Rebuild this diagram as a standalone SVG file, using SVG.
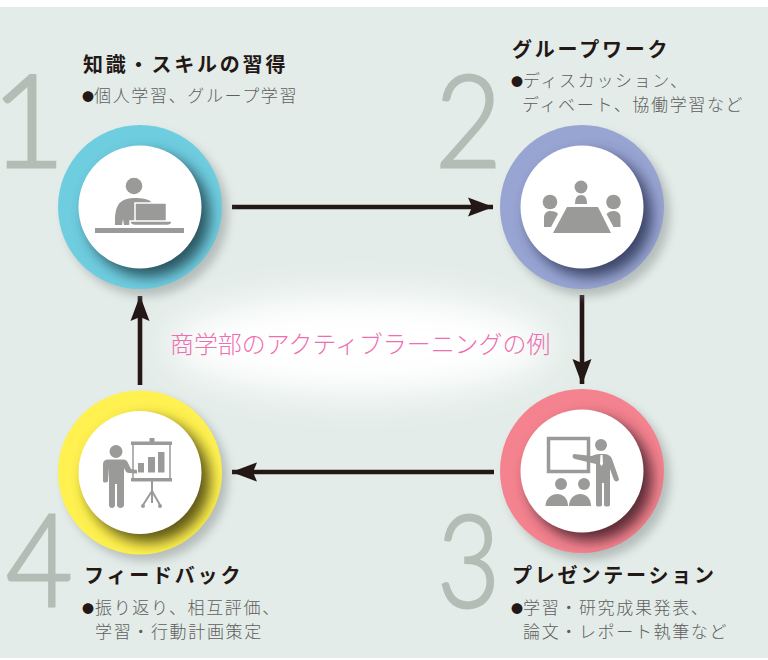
<svg xmlns="http://www.w3.org/2000/svg" width="768" height="660" viewBox="0 0 768 660">
<style>
.num{font-family:"Lato",sans-serif;font-weight:300;font-size:128px;fill:#b3bdb6;stroke:#b3bdb6;stroke-width:2.800px}
.ttl{font-family:"Noto Sans CJK JP",sans-serif;font-weight:700;font-size:20px;letter-spacing:2.8px;fill:#231815}
.sub{font-family:"Noto Sans CJK JP",sans-serif;font-weight:300;font-size:17px;letter-spacing:1.65px;fill:#5f5e5e}
.dot{font-size:12px;fill:#231815;letter-spacing:0}
.ico{fill:#9a9b99}
.wl{stroke:#fff;stroke-width:1.5}
.conn{stroke:#231815;stroke-width:4.600;fill:none}
.wh{fill:#fff}
</style>
<defs>
<filter id="b1" x="-30%" y="-30%" width="160%" height="160%"><feGaussianBlur stdDeviation="5"/></filter>
<filter id="b2" x="-30%" y="-30%" width="160%" height="160%"><feGaussianBlur stdDeviation="7"/></filter>
<filter id="glow" x="-30%" y="-60%" width="160%" height="220%"><feGaussianBlur stdDeviation="18"/></filter>
<clipPath id="c1"><circle cx="140" cy="207" r="82"/></clipPath>
<clipPath id="c2"><circle cx="582" cy="207" r="82"/></clipPath>
<clipPath id="c3"><circle cx="582" cy="471" r="82"/></clipPath>
<clipPath id="c4"><circle cx="140" cy="472.500" r="82"/></clipPath>
<marker id="arr" markerUnits="userSpaceOnUse" markerWidth="27" markerHeight="20" refX="25" refY="10" orient="auto"><path d="M25.500,10 L0,0.500 L4,10 L0,19.500 Z" fill="#231815"/></marker>
</defs>
<rect x="0" y="7" width="768" height="651" fill="#e3ece8"/>
<ellipse cx="360" cy="345" rx="190" ry="50" fill="#fff" filter="url(#glow)"/>
<text x="170" y="353" style="font-family:'Noto Sans CJK JP',sans-serif;font-weight:300;font-size:23.950px;fill:#ee6fb0">商学部のアクティブラーニングの例</text>
<g id="connectors">
<line class="conn" x1="232" y1="207" x2="493" y2="207" marker-end="url(#arr)"/>
<line class="conn" x1="582" y1="295" x2="582" y2="384" marker-end="url(#arr)"/>
<line class="conn" x1="494" y1="472" x2="232" y2="472" marker-end="url(#arr)"/>
<line class="conn" x1="140" y1="385" x2="140" y2="296" marker-end="url(#arr)"/>
</g>
<g id="node1">
<text class="num" x="-9" y="167">1</text>
<circle cx="146" cy="214" r="82" fill="#8f9896" opacity=".55" filter="url(#b1)"/>
<circle cx="140" cy="207" r="82" fill="#6fcde0"/>
<g clip-path="url(#c1)"><circle cx="148" cy="215" r="62" fill="#2a5561" filter="url(#b2)"/></g>
<circle cx="140" cy="207" r="61.500" class="wh"/>
<circle class="ico" cx="134" cy="186" r="8.300"/>
<path class="ico" d="M115,225 C115,212 115,198 134,198 C142,198 150,199 152,203 L135,203 L135,221 L130,221 L129,225 L124,225 L123,219 L122,225 Z"/>
<rect class="ico wl" x="135" y="203" width="31.500" height="20"/>
<path class="ico wl" d="M130,221 H172 Q172,225.500 167,225.500 H135 Q130,225.500 130,221 Z"/>
<rect class="ico" x="95" y="228" width="89" height="5"/>
<text class="ttl" x="83" y="72">知識・スキルの習得</text>
<text class="sub" y="102"><tspan class="dot" x="82">●</tspan><tspan x="94">個人学習、グループ学習</tspan></text>
</g>
<g id="node2">
<text class="num" transform="translate(435 167) scale(.9 1)">2</text>
<circle cx="588" cy="214" r="82" fill="#8f9896" opacity=".55" filter="url(#b1)"/>
<circle cx="582" cy="207" r="82" fill="#98a4d2"/>
<g clip-path="url(#c2)"><circle cx="590" cy="215" r="62" fill="#3a4568" filter="url(#b2)"/></g>
<circle cx="582" cy="207" r="61.500" class="wh"/>
<circle class="ico" cx="581" cy="187" r="6.500"/>
<path class="ico" d="M575,204 C575,198 577,195 581,195 C585,195 587,198 587,204 Z"/>
<circle class="ico" cx="550" cy="202" r="7.300"/>
<circle class="ico" cx="613.500" cy="202" r="7.300"/>
<path class="ico" d="M544,227 V218 C544,213 547,211 550,211 C554,211 557,212 558,214 L551,227 Z"/>
<path class="ico" d="M620,227 H613 L606,214 C608,212 610,211 613,211 C617,211 620,213 620,218 Z" transform="translate(0.500 0)"/>
<path class="ico" d="M567,207 H598 L611,233 H553 Z"/>
<text class="ttl" x="512" y="57">グループワーク</text>
<text class="sub" y="87"><tspan class="dot" x="511">●</tspan><tspan x="523">ディスカッション、</tspan></text>
<text class="sub" x="522" y="111">ディベート、協働学習など</text>
</g>
<g id="node3">
<text class="num" transform="translate(437 607) scale(.85 1)">3</text>
<circle cx="588" cy="478" r="82" fill="#8f9896" opacity=".55" filter="url(#b1)"/>
<circle cx="582" cy="471" r="82" fill="#f4838f"/>
<g clip-path="url(#c3)"><circle cx="590" cy="479" r="62" fill="#5a2b35" filter="url(#b2)"/></g>
<circle cx="582" cy="471" r="61.500" class="wh"/>
<rect x="548.500" y="438.500" width="40" height="33" fill="none" stroke="#9a9b99" stroke-width="3.500"/>
<circle class="ico" cx="601" cy="445" r="6"/>
<path class="ico" d="M574,454 L592,456 C594,455 596,454 599,454 H603 C608,454 611,456 612,459 L619,479 C619,482 615,482 614,480 L610,469 V505 C610,507 604,507 604,505 V483 H602 V505 C602,507 596,507 596,505 V464 L575,459 C572,458 572,455 574,454 Z"/>
<path d="M600.500,455 H602.500 L603,464 L601.500,466 L600,464 Z" fill="#fff"/>
<circle class="ico" cx="561" cy="484" r="6"/>
<circle class="ico" cx="584" cy="484" r="6"/>
<path class="ico" d="M545.500,506 C545.500,498 552,494 557,494 C563,494 568,498 568,506 Z"/>
<path class="ico" d="M569,506 C569,498 575,494 580,494 C586,494 591,498 591,506 Z"/>
<text class="ttl" x="512" y="583">プレゼンテーション</text>
<text class="sub" y="614"><tspan class="dot" x="511">●</tspan><tspan x="523">学習・研究成果発表、</tspan></text>
<text class="sub" x="523" y="638">論文・レポート執筆など</text>
</g>
<g id="node4">
<text class="num" transform="translate(6 606) scale(.9 1)">4</text>
<circle cx="146" cy="479" r="82" fill="#8f9896" opacity=".55" filter="url(#b1)"/>
<circle cx="140" cy="472.500" r="82" fill="#fff150"/>
<g clip-path="url(#c4)"><circle cx="148" cy="480.500" r="62" fill="#5e5714" filter="url(#b2)"/></g>
<circle cx="140" cy="472.500" r="61.500" class="wh"/>
<circle class="ico" cx="116" cy="451.500" r="6.500"/>
<path class="ico" d="M108,459.500 H123 C126,459.500 127,461 128,463 L131,469 L137,470 V473.500 L129,473 C127,473 126,472 125,470 L124,468 V505 C124,509 117,509 117,505 V484 H115 V505 C115,509 109,509 109,505 V468 L108,481 C107,483 103,483 103,481 V464 C103,461 105,459.500 108,459.500 Z"/>
<rect class="ico" x="131" y="441.500" width="41" height="3.500"/>
<rect class="ico" x="131" y="478" width="41" height="3.500"/>
<rect class="ico" x="149.500" y="438" width="5" height="4"/>
<path d="M133,445 V478 M170,445 V478" stroke="#9a9b99" stroke-width="1.500"/>
<rect class="ico" x="138" y="463" width="6" height="9.500"/>
<rect class="ico" x="148" y="457" width="7" height="15.500"/>
<rect class="ico" x="158" y="452" width="6.500" height="20.500"/>
<path d="M152,481 V503 M152,491 L143,505 M152,491 L160,505" stroke="#9a9b99" stroke-width="2" fill="none"/>
<circle class="ico" cx="143" cy="506" r="2"/><circle class="ico" cx="160" cy="506" r="2"/>
<text class="ttl" x="84" y="583">フィードバック</text>
<text class="sub" y="614"><tspan class="dot" x="82">●</tspan><tspan x="95">振り返り、相互評価、</tspan></text>
<text class="sub" x="95" y="638">学習・行動計画策定</text>
</g>
</svg>
